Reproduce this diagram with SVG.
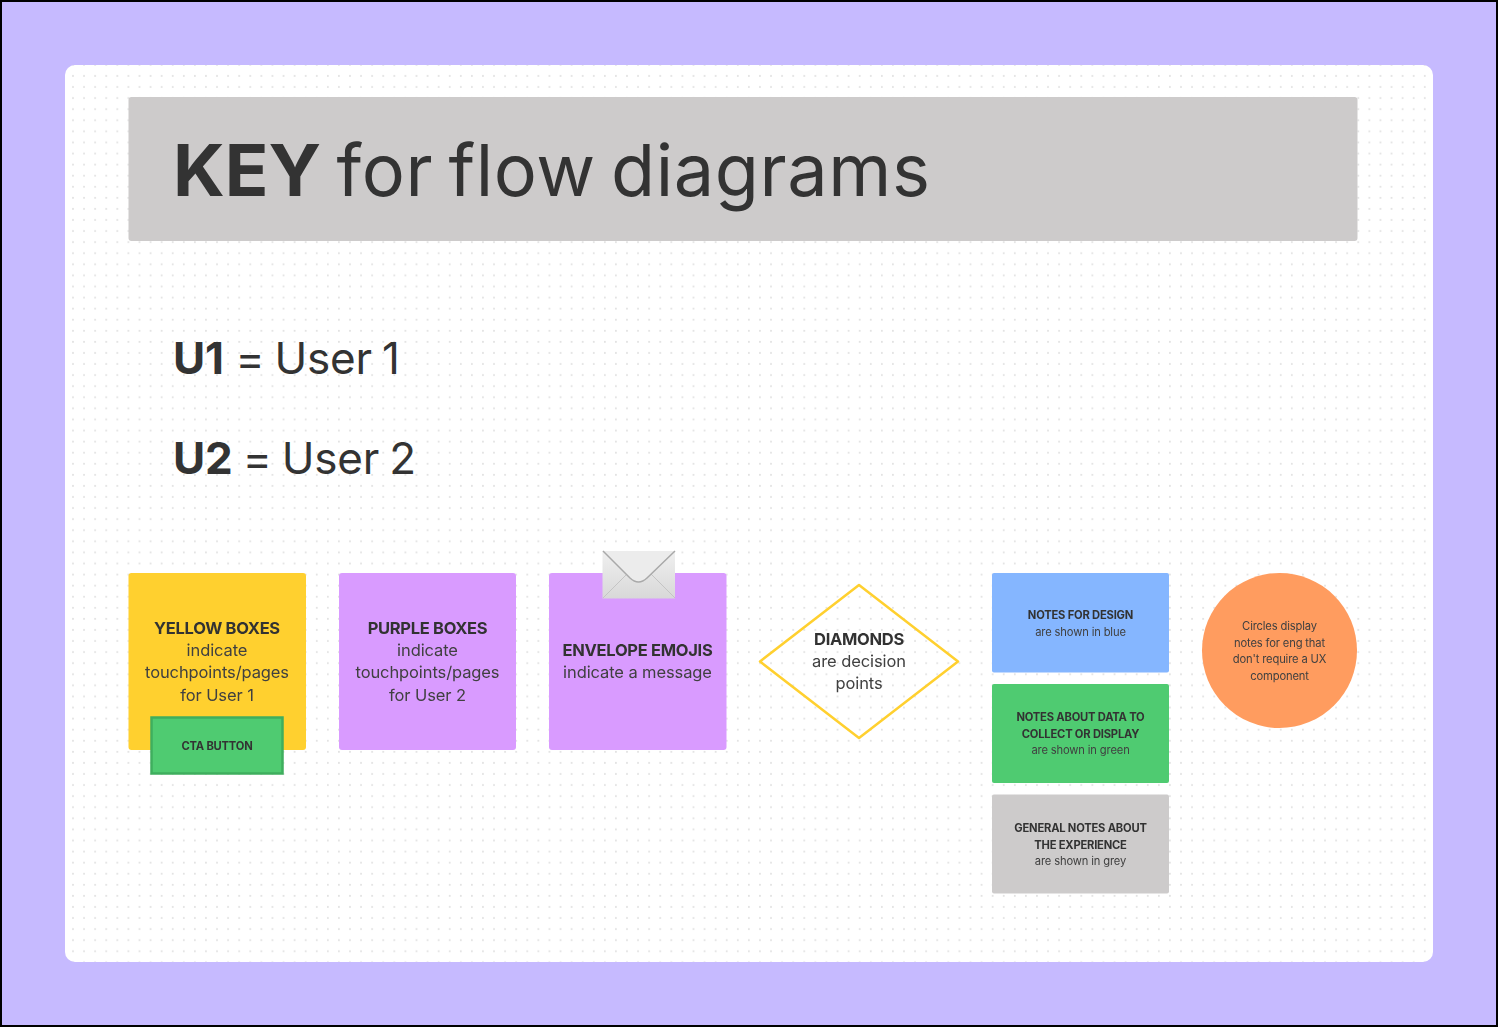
<svg xmlns="http://www.w3.org/2000/svg" width="1498" height="1027" viewBox="0 0 1498 1027">
<style>
text{font-family:Inter,"Liberation Sans",sans-serif;fill:#333;text-anchor:middle;font-optical-sizing:none}
.b{font-weight:700}
.big{font-size:72px;text-anchor:start;word-spacing:-5.500px;letter-spacing:.6px}
.big .b{letter-spacing:0}
.mid{font-size:44px;text-anchor:start;word-spacing:-2px;letter-spacing:-.2px}
.n{font-size:16.500px;letter-spacing:-.1px;fill:#404040;filter:url(#soft)}
.n .b{letter-spacing:-.3px;fill:#333}
.s{font-size:11.200px;letter-spacing:-.15px;fill:#404040;filter:url(#soft)}
.s .b{letter-spacing:-.2px;fill:#333}
</style>
<defs>
<pattern id="dots" x="67.500" y="70.500" width="11.080" height="11.080" patternUnits="userSpaceOnUse"><circle cx="5.500" cy="5.500" r="1" fill="#e2e2e2"/></pattern>
<linearGradient id="env" x1="0" y1="0" x2="0" y2="1"><stop offset="0" stop-color="#f0f0f0"/><stop offset="1" stop-color="#d8d8d8"/></linearGradient>
<filter id="soft" x="-5%" y="-10%" width="110%" height="120%"><feGaussianBlur stdDeviation="0.600"/></filter>
</defs>
<rect width="1498" height="1027" fill="#000"/>
<rect x="2" y="2" width="1494" height="1023" fill="#c6baff"/>
<g id="board">
<rect x="65" y="65" width="1368" height="897" rx="10" fill="#fff"/>
<rect x="65" y="65" width="1368" height="897" rx="10" fill="url(#dots)"/>
</g>
<g id="title">
<rect x="128.500" y="97" width="1229" height="144" rx="3" fill="#cdcbcb"/>
<text class="big" x="173" y="196"><tspan class="b">KEY</tspan> for flow diagrams</text>
</g>
<g id="legend-u1"><text class="mid" x="173" y="374"><tspan class="b">U1</tspan><tspan dx="1.500"> = User 1</tspan></text></g>
<g id="legend-u2"><text class="mid" x="173" y="474"><tspan class="b">U2</tspan> = User 2</text></g>
<g id="yellow-box">
<rect x="128.500" y="573" width="177.500" height="177" rx="3" fill="#ffd02f"/>
<text class="n" x="217" y="634"><tspan class="b">YELLOW BOXES</tspan><tspan x="217" dy="22.200">indicate</tspan><tspan x="217" dy="22.200">touchpoints/pages</tspan><tspan x="217" dy="22.200">for User 1</tspan></text>
</g>
<g id="cta-button">
<rect x="151.500" y="717.500" width="131" height="56" fill="#4fcb71" stroke="#3fae5e" stroke-width="2.500"/>
<text class="s" x="217" y="750"><tspan class="b">CTA BUTTON</tspan></text>
</g>
<g id="purple-box">
<rect x="339" y="573" width="177" height="177" rx="3" fill="#d99bff"/>
<text class="n" x="427.500" y="634"><tspan class="b">PURPLE BOXES</tspan><tspan x="427.500" dy="22.200">indicate</tspan><tspan x="427.500" dy="22.200">touchpoints/pages</tspan><tspan x="427.500" dy="22.200">for User 2</tspan></text>
</g>
<g id="envelope-box">
<rect x="549" y="573" width="177.500" height="177" rx="3" fill="#d99bff"/>
<text class="n" x="637.500" y="656"><tspan class="b">ENVELOPE EMOJIS</tspan><tspan x="637.500" dy="22.200">indicate a message</tspan></text>
<g filter="url(#soft)">
<rect x="602.500" y="551" width="72.500" height="47.500" fill="url(#env)"/>
<path d="M603 598 L628 573 M675 598 L650 573" fill="none" stroke="#c4c4c4" stroke-width="1"/>
<path d="M603 551 L630 578 Q638.500 586 647 578 L675 551" fill="#ececec" stroke="#a9a9a9" stroke-width="1.500"/>
</g>
</g>
<g id="diamond">
<path d="M859 585 L958 661.500 L859 738 L760 661.500 Z" fill="none" stroke="#ffd02f" stroke-width="2.500" stroke-linejoin="round"/>
<text class="n" x="859" y="645"><tspan class="b">DIAMONDS</tspan><tspan x="859" dy="22.200">are decision</tspan><tspan x="859" dy="22.200">points</tspan></text>
</g>
<g id="note-blue">
<rect x="992" y="573" width="177" height="99.500" rx="2" fill="#85b6ff"/>
<text class="s" x="1080.500" y="619"><tspan class="b">NOTES FOR DESIGN</tspan><tspan x="1080.500" dy="16.700">are shown in blue</tspan></text>
</g>
<g id="note-green">
<rect x="992" y="684" width="177" height="99" rx="2" fill="#4fcb71"/>
<text class="s" x="1080.500" y="721"><tspan class="b">NOTES ABOUT DATA TO</tspan><tspan x="1080.500" dy="16.700" class="b">COLLECT OR DISPLAY</tspan><tspan x="1080.500" dy="16.700">are shown in green</tspan></text>
</g>
<g id="note-grey">
<rect x="992" y="794.500" width="177" height="99" rx="2" fill="#cdcbcb"/>
<text class="s" x="1080.500" y="832"><tspan class="b">GENERAL NOTES ABOUT</tspan><tspan x="1080.500" dy="16.700" class="b">THE EXPERIENCE</tspan><tspan x="1080.500" dy="16.700">are shown in grey</tspan></text>
</g>
<g id="circle-note">
<circle cx="1279.500" cy="650.500" r="77.500" fill="#ff9c5f"/>
<text class="s" x="1279.500" y="630"><tspan>Circles display</tspan><tspan x="1279.500" dy="16.700">notes for eng that</tspan><tspan x="1279.500" dy="16.700">don't require a UX</tspan><tspan x="1279.500" dy="16.700">component</tspan></text>
</g>
<g id="connectors"/>
</svg>
